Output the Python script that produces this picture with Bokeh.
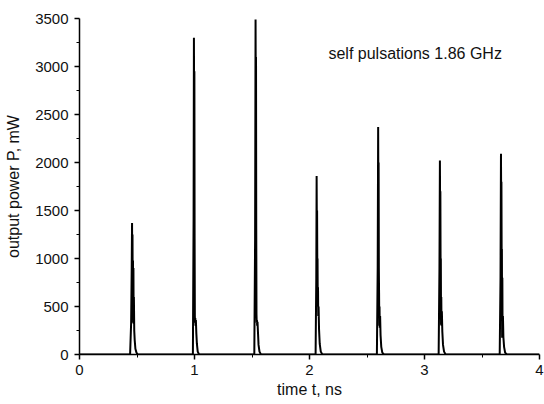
from bokeh.plotting import figure
from bokeh.embed import file_html
from bokeh.resources import INLINE
from bokeh.models import Range1d, FixedTicker
from bokeh.core.properties import value

# ---- data (time in ns, power in mW) ----
pulse1_t = [0.440, 0.449, 0.454, 0.457, 0.459, 0.461, 0.463, 0.465, 0.467, 0.469, 0.471, 0.473, 0.476, 0.480, 0.486, 0.495, 0.505]
pulse1_p = [0, 330, 900, 1370, 700, 1250, 500, 980, 330, 900, 320, 600, 250, 150, 60, 20, 0]

pulse2_t = [0.986, 0.992, 0.995, 0.997, 0.999, 1.001, 1.003, 1.005, 1.007, 1.009, 1.012, 1.016, 1.021, 1.028, 1.040]
pulse2_p = [0, 1400, 3300, 2500, 2950, 1200, 400, 330, 380, 300, 360, 220, 110, 30, 0]

pulse3_t = [1.520, 1.527, 1.531, 1.533, 1.535, 1.537, 1.539, 1.541, 1.543, 1.545, 1.548, 1.552, 1.557, 1.565, 1.578]
pulse3_p = [0, 1200, 3490, 2700, 3100, 1300, 420, 330, 360, 300, 340, 230, 100, 30, 0]

pulse4_t = [2.053, 2.059, 2.062, 2.064, 2.066, 2.068, 2.070, 2.072, 2.074, 2.076, 2.079, 2.083, 2.089, 2.098, 2.112]
pulse4_p = [0, 800, 1860, 1300, 1500, 880, 1000, 500, 700, 400, 500, 260, 110, 30, 0]

pulse5_t = [2.586, 2.593, 2.597, 2.599, 2.601, 2.603, 2.605, 2.607, 2.609, 2.611, 2.614, 2.618, 2.624, 2.633, 2.647]
pulse5_p = [0, 900, 2370, 1700, 2000, 900, 640, 300, 500, 280, 400, 200, 80, 20, 0]

pulse6_t = [3.123, 3.130, 3.134, 3.136, 3.138, 3.140, 3.142, 3.144, 3.146, 3.148, 3.151, 3.155, 3.161, 3.170, 3.184]
pulse6_p = [0, 900, 2020, 1500, 1700, 870, 1000, 310, 600, 300, 450, 240, 100, 30, 0]

pulse7_t = [3.654, 3.661, 3.665, 3.667, 3.669, 3.671, 3.673, 3.675, 3.677, 3.679, 3.682, 3.686, 3.692, 3.701, 3.715]
pulse7_p = [0, 800, 2090, 1600, 1800, 1000, 1100, 175, 800, 200, 400, 180, 80, 20, 0]

x_ticks = [0, 1, 2, 3, 4]
x_minor = [0.5, 1.5, 2.5, 3.5]
y_ticks = [0, 500, 1000, 1500, 2000, 2500, 3000, 3500]
y_minor = [250, 750, 1250, 1750, 2250, 2750, 3250]
annotation = "self pulsations 1.86 GHz"
annotation_pos = (2.165, 3140)
x_title = "time t, ns"
y_title = "output power P, mW"

t_all = [0.0]
p_all = [0]
for tt, pp in [(pulse1_t, pulse1_p), (pulse2_t, pulse2_p), (pulse3_t, pulse3_p),
               (pulse4_t, pulse4_p), (pulse5_t, pulse5_p), (pulse6_t, pulse6_p),
               (pulse7_t, pulse7_p)]:
    t_all += tt
    p_all += pp
t_all.append(4.0)
p_all.append(0)

FONT = "Liberation Sans"

p = figure(width=544, height=400, output_backend="svg", toolbar_location=None,
           x_range=Range1d(0, 4), y_range=Range1d(0, 3500),
           min_border_left=79, min_border_right=5, min_border_top=18, min_border_bottom=43)
p.outline_line_color = None
p.xgrid.visible = False
p.ygrid.visible = False
p.background_fill_color = "white"
p.border_fill_color = "white"

p.line(t_all, p_all, line_color="black", line_width=2.0)

p.text(x=[annotation_pos[0]], y=[annotation_pos[1]], text=[annotation],
       text_font=value(FONT), text_font_size="16px", text_baseline="middle",
       text_align="left", text_color="#111111")

for ax in (p.xaxis[0], p.yaxis[0]):
    ax.axis_line_color = "black"
    ax.axis_line_width = 1.5
    ax.major_tick_line_color = "black"
    ax.major_tick_line_width = 1.5
    ax.minor_tick_line_color = "black"
    ax.major_tick_out = 5
    ax.major_tick_in = 0
    ax.minor_tick_out = 3
    ax.minor_tick_in = 0
    ax.major_label_text_font = FONT
    ax.major_label_text_font_size = "15px"
    ax.major_label_text_color = "#111111"
    ax.axis_label_text_font = FONT
    ax.axis_label_text_font_size = "16px"
    ax.axis_label_text_font_style = "normal"
    ax.axis_label_text_color = "#111111"

p.xaxis[0].ticker = FixedTicker(ticks=x_ticks, minor_ticks=x_minor)
p.yaxis[0].ticker = FixedTicker(ticks=y_ticks, minor_ticks=y_minor)
p.xaxis[0].axis_label = x_title
p.yaxis[0].axis_label = y_title
p.xaxis[0].major_label_standoff = 5
p.xaxis[0].axis_label_standoff = 3
p.yaxis[0].major_label_standoff = 6
p.yaxis[0].axis_label_standoff = 10

open("out.html", "w").write(file_html(p, INLINE))
